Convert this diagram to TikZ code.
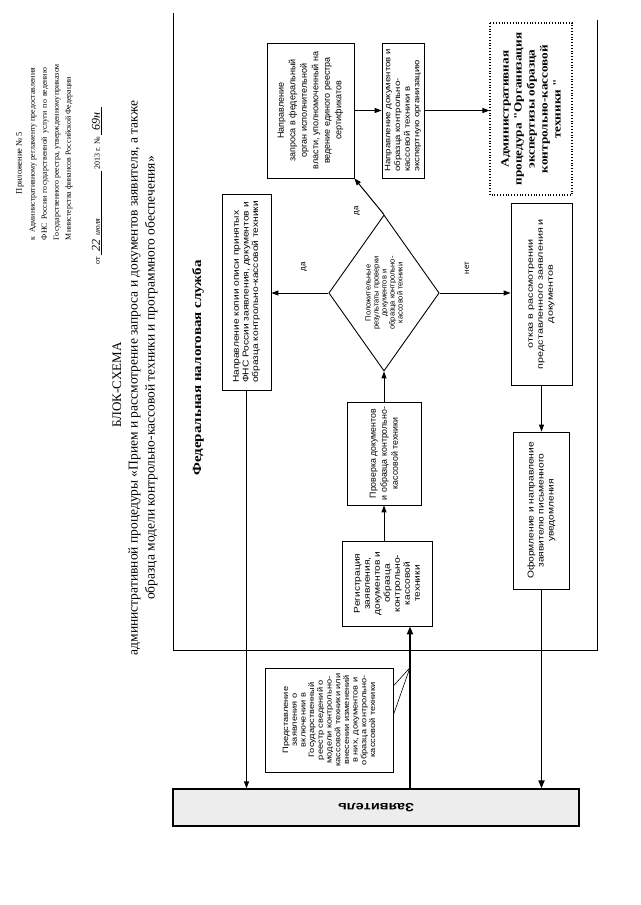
\documentclass[tikz,border=0pt]{standalone}
\usepackage{fontspec}
\setmainfont{Liberation Serif}
\newfontfamily\arN{Liberation Sans}
\newfontfamily\arS[FakeStretch=1.2]{Liberation Sans}
\newfontfamily\arT[FakeStretch=1.35]{Liberation Sans}
\newfontfamily\tmS[FakeStretch=1.2]{Liberation Serif}
\usetikzlibrary{shapes.geometric,arrows.meta,calc}
\begin{document}
\begin{tikzpicture}[x=1pt,y=-1pt,
  rbox/.style={draw, line width=0.8pt, rotate=90, align=center, inner sep=1pt},
  arr/.style={line width=1pt, -{Triangle[length=7pt,width=5pt]}},
  tarr/.style={line width=1.8pt, -{Triangle[length=8pt,width=6pt]}},
  lbl/.style={rotate=90, font=\arN\fontsize{8}{9}\selectfont, inner sep=0pt}]
\fill[white] (0,0) rectangle (640,905);
\useasboundingbox (0,0) rectangle (640,905);

% header
\node[rotate=90, font=\fontsize{8.5}{11}\selectfont, inner sep=0] (appx) at (20,163) {Приложение № 5};
\node[rotate=90, align=left, font=\fontsize{7.9}{12}\selectfont, inner sep=0] (reglam) at (51,154)
 {\makebox[172pt][s]{к\ \ Административному регламенту предоставления}\\
  \makebox[172pt][s]{ФНС России государственной услуги по ведению}\\
  \makebox[172pt][s]{Государственного реестра, утвержденному приказом}\\
  \makebox[172pt][l]{Министерства финансов Российской Федерации}};
\node[rotate=90, anchor=west, font=\fontsize{8}{11}\selectfont, inner sep=0] (date) at (97,265)
 {от \underline{\makebox[84pt][l]{\ \ {\large\itshape 22}\ \ \itshape июля}}\ 2013 г. №\,\underline{\makebox[28pt]{\large\itshape 69н}}};
\node[rotate=90, font=\fontsize{13}{15}\selectfont, inner sep=0] (bs) at (117,385) {БЛОК-СХЕМА};
\node[rotate=90, font=\fontsize{13.5}{17}\selectfont, inner sep=0, align=center] (ttl) at (143,378)
 {административной процедуры «Прием и рассмотрение запроса и документов заявителя, а также\\образца модели контрольно-кассовой техники и программного обеспечения»};

% swimlane frame
\draw[line width=0.9pt] (173,13) -- (173,650) -- (597,650) -- (597,20);
\node[rotate=90, font=\tmS\bfseries\fontsize{12.5}{14}\selectfont, inner sep=0] (fns) at (198,368) {Федеральная налоговая служба};

% boxes
\node[rbox, minimum width=135, minimum height=87, font=\arN\fontsize{9}{11.5}\selectfont] (request) at (310.5,110.5)
 {Направление\\запроса в федеральный\\орган исполнительной\\власти, уполномоченный на\\ведение единого реестра\\сертификатов};
\node[rbox, minimum width=135, minimum height=42, align=left, font=\arS\fontsize{8}{9.7}\selectfont] (send) at (403,110.5)
 {Направление документов и\\образца контрольно-\\кассовой техники в\\экспертную организацию};
\node[rbox, dotted, line width=1.1pt, minimum width=172, minimum height=82, font=\tmS\bfseries\fontsize{11}{13}\selectfont] (admin) at (531,109)
 {Административная\\процедура "Организация\\экспертизы образца\\контрольно-кассовой\\техники "};
\node[rbox, minimum width=196, minimum height=49, align=left, font=\arS\fontsize{8.5}{9.7}\selectfont] (copy) at (246.5,292)
 {Направление копии описи принятых\\ФНС России заявления, документов и\\образца контрольно-кассовой техники};
\node[diamond, draw, line width=0.9pt, rotate=90, minimum width=156, minimum height=108, inner sep=0, align=center, font=\arN\fontsize{7.5}{8}\selectfont] (dia) at (384,293)
 {Положительные\\результаты проверки\\документов и\\образца контрольно-\\кассовой техники};
\node[rbox, minimum width=103, minimum height=74, font=\arN\fontsize{8.8}{11}\selectfont] (check) at (384,453.5)
 {Проверка документов\\и образца контрольно-\\кассовой техники};
\node[rbox, minimum width=85, minimum height=90, font=\arS\fontsize{8.5}{10}\selectfont] (reg) at (387,583.5)
 {Регистрация\\заявления,\\документов и\\образца\\контрольно-\\кассовой\\техники};
\node[rbox, minimum width=182, minimum height=61, font=\arT\fontsize{8}{10}\selectfont] (refuse) at (541.5,294)
 {отказ в рассмотрении\\представленного заявления и\\документов};
\node[rbox, minimum width=157, minimum height=56, font=\arS\fontsize{8.5}{10}\selectfont] (notify) at (541.5,510.5)
 {Оформление и направление\\заявителю письменного\\уведомления};
\node[rbox, line width=0.7pt, minimum width=104, minimum height=128, font=\arS\fontsize{7.7}{8.7}\selectfont] (callout) at (329,720)
 {Представление\\заявления о\\включении в\\Государственный\\реестр сведений о\\модели контрольно-\\кассовой техники или\\внесении изменений\\в них, документов и\\образца контрольно-\\кассовой техники};

% applicant bar
\node[draw, line width=1.2pt, fill=black!7, minimum width=406, minimum height=37, inner sep=0] (zayav) at (376,807.5) {};
\node[rotate=180, font=\arS\bfseries\fontsize{12}{14}\selectfont, inner sep=0] (zlbl) at (zayav.center) {Заявитель};

% connectors
\coordinate (regin) at ([xshift=23pt]reg.west);
\coordinate (tip) at (regin |- callout.east);
\draw[arr] (copy.west) -- (copy.west |- zayav.north);
\draw[tarr] (regin |- zayav.north) -- (regin);
\draw[arr] (check.west |- reg.east) -- (check.west);
\draw[arr] (check.east) -- (dia.west);
\draw[arr] (dia.north) -- (dia.north -| copy.south);
\draw[arr] (dia.south) -- (dia.south -| refuse.north);
\draw[arr] (dia.east) -- (request.south west);
\draw[arr] (request.south) -- (send.north);
\draw[arr] (send.south) -- (send.south -| admin.north);
\draw[arr] (refuse.west) -- (refuse.west |- notify.east);
\draw[tarr] (notify.west) -- (notify.west |- zayav.north);
\draw[line width=0.6pt] ([yshift=34pt]callout.south) -- (tip) -- ([yshift=5pt]callout.south);

% labels
\node[lbl] (yes1) at (304,267) {да};
\node[lbl] (no1) at (467,268) {нет};
\node[lbl] (yes2) at (357,211) {да};
\end{tikzpicture}
\end{document}
